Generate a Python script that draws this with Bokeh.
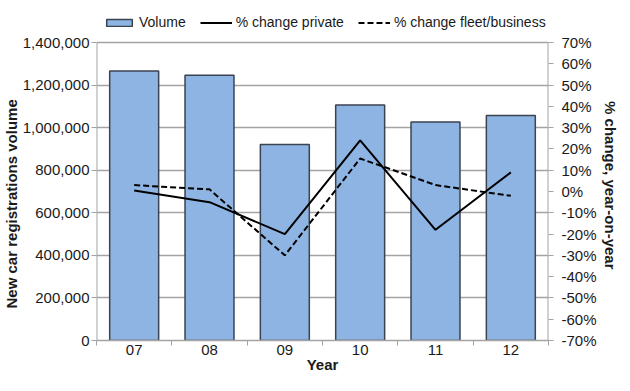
from bokeh.plotting import figure
from bokeh.models import (Range1d, LinearAxis, FixedTicker, NumeralTickFormatter,
                          PrintfTickFormatter, Legend, LegendItem, ColumnDataSource,
                          Title)
from bokeh.embed import file_html
from bokeh.resources import INLINE

years = ["07", "08", "09", "10", "11", "12"]
volume = [1266000, 1246000, 921000, 1106000, 1027000, 1057000]
pct_private = [0.5, -5, -20, 24, -18, 9]
pct_fleet = [3, 1, -30, 15.5, 3, -2]
left_ticks = [0, 200000, 400000, 600000, 800000, 1000000, 1200000, 1400000]
right_ticks = [-70, -60, -50, -40, -30, -20, -10, 0, 10, 20, 30, 40, 50, 60, 70]

FONT = "Liberation Sans"
TXT = "#1a1a1a"
GRID = "#a3a3a3"

VMAX = left_ticks[-1]
PMIN, PMAX = right_ticks[0], right_ticks[-1]
HEAD = 34 / 298.0  # room above the plot area for the legend, as fraction

xs = [i + 0.5 for i in range(len(years))]
src = ColumnDataSource(dict(x=xs, vol=volume, pp=pct_private, pf=pct_fleet))

p = figure(width=622, height=375, output_backend="svg", toolbar_location=None,
           x_range=Range1d(0, len(years)),
           y_range=Range1d(0, VMAX * (1 + HEAD)),
           min_border_left=96, min_border_right=70, min_border_top=8,
           min_border_bottom=35)
p.outline_line_color = None
p.border_fill_color = "white"

p.extra_y_ranges = {"pct": Range1d(PMIN, PMAX + (PMAX - PMIN) * HEAD)}

bars = p.vbar(x="x", top="vol", width=0.65, source=src, fill_color="#8db4e2",
              line_color="#3b4250", line_width=1.5)
l1 = p.line(x="x", y="pp", source=src, y_range_name="pct", line_color="black",
            line_width=2)
l2 = p.line(x="x", y="pf", source=src, y_range_name="pct", line_color="black",
            line_width=2, line_dash="6 3")
# axis lines limited to the value range
p.segment(x0=[0, len(years)], y0=[0, 0], x1=[0, len(years)], y1=[VMAX, VMAX],
          line_color=GRID, line_width=2)

# x axis
xa = p.xaxis[0]
xa.ticker = FixedTicker(ticks=xs, minor_ticks=list(range(len(years) + 1)))
xa.major_label_overrides = {x: y for x, y in zip(xs, years)}
xa.major_tick_line_color = None
xa.minor_tick_out = 5
xa.minor_tick_in = 0
xa.minor_tick_line_color = GRID
xa.axis_line_color = GRID
xa.axis_line_width = 1.5
xa.major_label_standoff = -2
xa.axis_label = "Year"
xa.axis_label_standoff = -2

# left axis
ya = p.yaxis[0]
ya.ticker = FixedTicker(ticks=left_ticks)
ya.formatter = NumeralTickFormatter(format="0,0")
ya.minor_tick_line_color = None
ya.major_tick_out = 5
ya.major_tick_in = 0
ya.major_tick_line_color = GRID
ya.axis_line_color = None
ya.major_label_standoff = 2

# right axis
ra = LinearAxis(y_range_name="pct")
ra.ticker = FixedTicker(ticks=right_ticks)
ra.formatter = PrintfTickFormatter(format="%d%%")
ra.minor_tick_line_color = None
ra.major_tick_out = 5
ra.major_tick_in = 0
ra.major_tick_line_color = GRID
ra.axis_line_color = None
ra.major_label_standoff = 8
p.add_layout(ra, "right")

for ax in [xa, ya, ra]:
    ax.major_label_text_font = FONT
    ax.major_label_text_font_size = "15px"
    ax.major_label_text_color = TXT
    ax.axis_label_text_font = FONT
    ax.axis_label_text_font_size = "15px"
    ax.axis_label_text_font_style = "bold"
    ax.axis_label_text_color = TXT

# axis titles (side titles, so they can be placed along the value area)
lt = Title(text="New car registrations volume", align="left", offset=32,
           standoff=0, text_font=FONT, text_font_size="15px",
           text_font_style="bold", text_color=TXT)
p.add_layout(lt, "left")
rt = Title(text="% change, year-on-year", align="right", offset=71,
           standoff=4, text_font=FONT, text_font_size="15px",
           text_font_style="bold", text_color=TXT)
p.add_layout(rt, "right")

p.xgrid.grid_line_color = None
p.ygrid.ticker = FixedTicker(ticks=left_ticks)
p.ygrid.grid_line_color = GRID
p.ygrid.grid_line_width = 1.5

legend = Legend(items=[LegendItem(label="Volume", renderers=[bars]),
                       LegendItem(label="% change private", renderers=[l1]),
                       LegendItem(label="% change fleet/business", renderers=[l2])],
                orientation="horizontal", location=(7, 310))
legend.border_line_color = None
legend.background_fill_alpha = 0
legend.padding = 0
legend.margin = 0
legend.spacing = 14
legend.label_standoff = 4
legend.glyph_width = 32
legend.glyph_height = 9
legend.label_text_font = FONT
legend.label_text_font_size = "14px"
legend.label_text_color = TXT
legend.label_height = 15
p.add_layout(legend, "center")

open("out.html", "w").write(file_html(p, INLINE))
